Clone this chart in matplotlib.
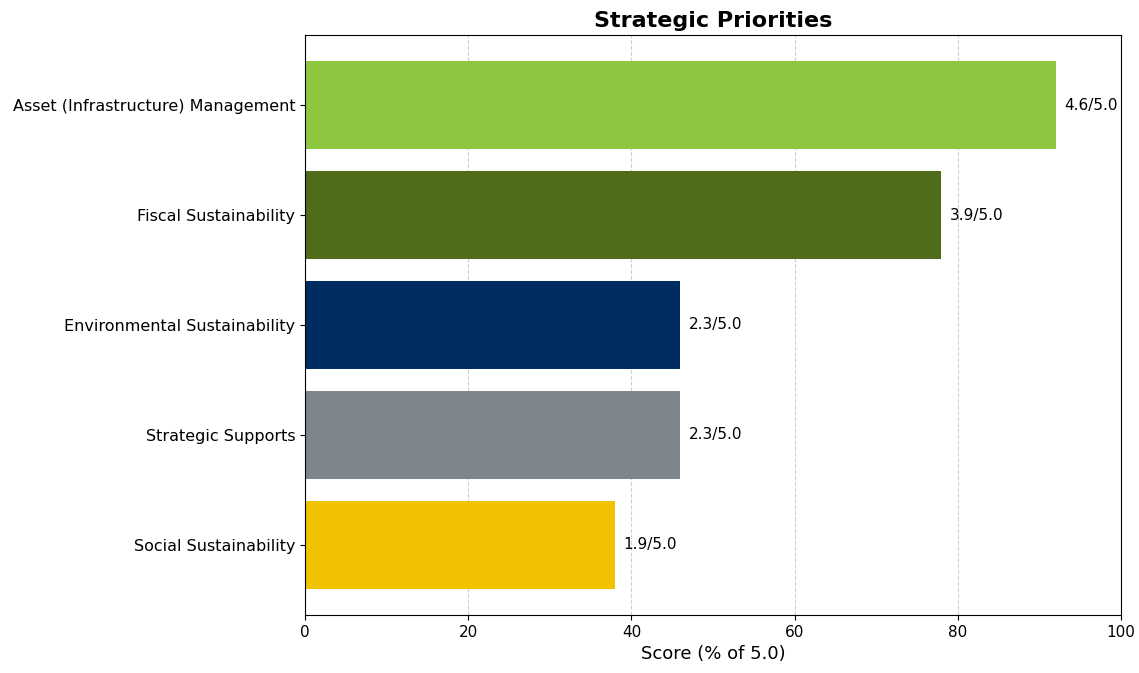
import matplotlib
matplotlib.use('Agg')
import matplotlib.pyplot as plt

categories = ['Asset (Infrastructure) Management', 'Fiscal Sustainability',
              'Environmental Sustainability', 'Strategic Supports',
              'Social Sustainability']
scores = [4.6, 3.9, 2.3, 2.3, 1.9]
max_score = 5.0
colors = ['#8DC63F', '#4F6C1A', '#002D5F', '#7D868C', '#F2C200']

pct = [100 * s / max_score for s in scores]

fig = plt.figure(figsize=(11.39, 6.73), dpi=100)
ax = fig.add_axes([305 / 1139, 1 - 615 / 673, 816 / 1139, 580 / 673])

ypos = list(range(len(categories)))[::-1]
ax.barh(ypos, pct, color=colors, height=0.8, zorder=2)
ax.set_yticks(ypos)
ax.set_yticklabels(categories, fontsize=11.5)
ax.set_xlim(0, 100)
ax.tick_params(axis='x', labelsize=11)
ax.grid(axis='x', linestyle='--', alpha=0.6, zorder=0)

for y, p, s in zip(ypos, pct, scores):
    ax.text(p + 1, y, '%.1f/%.1f' % (s, max_score), va='center', fontsize=11)

ax.set_xlabel('Score (% of 5.0)', fontsize=13)
ax.set_title('Strategic Priorities', fontsize=16, fontweight='bold')

plt.savefig('out.png', dpi=100)
